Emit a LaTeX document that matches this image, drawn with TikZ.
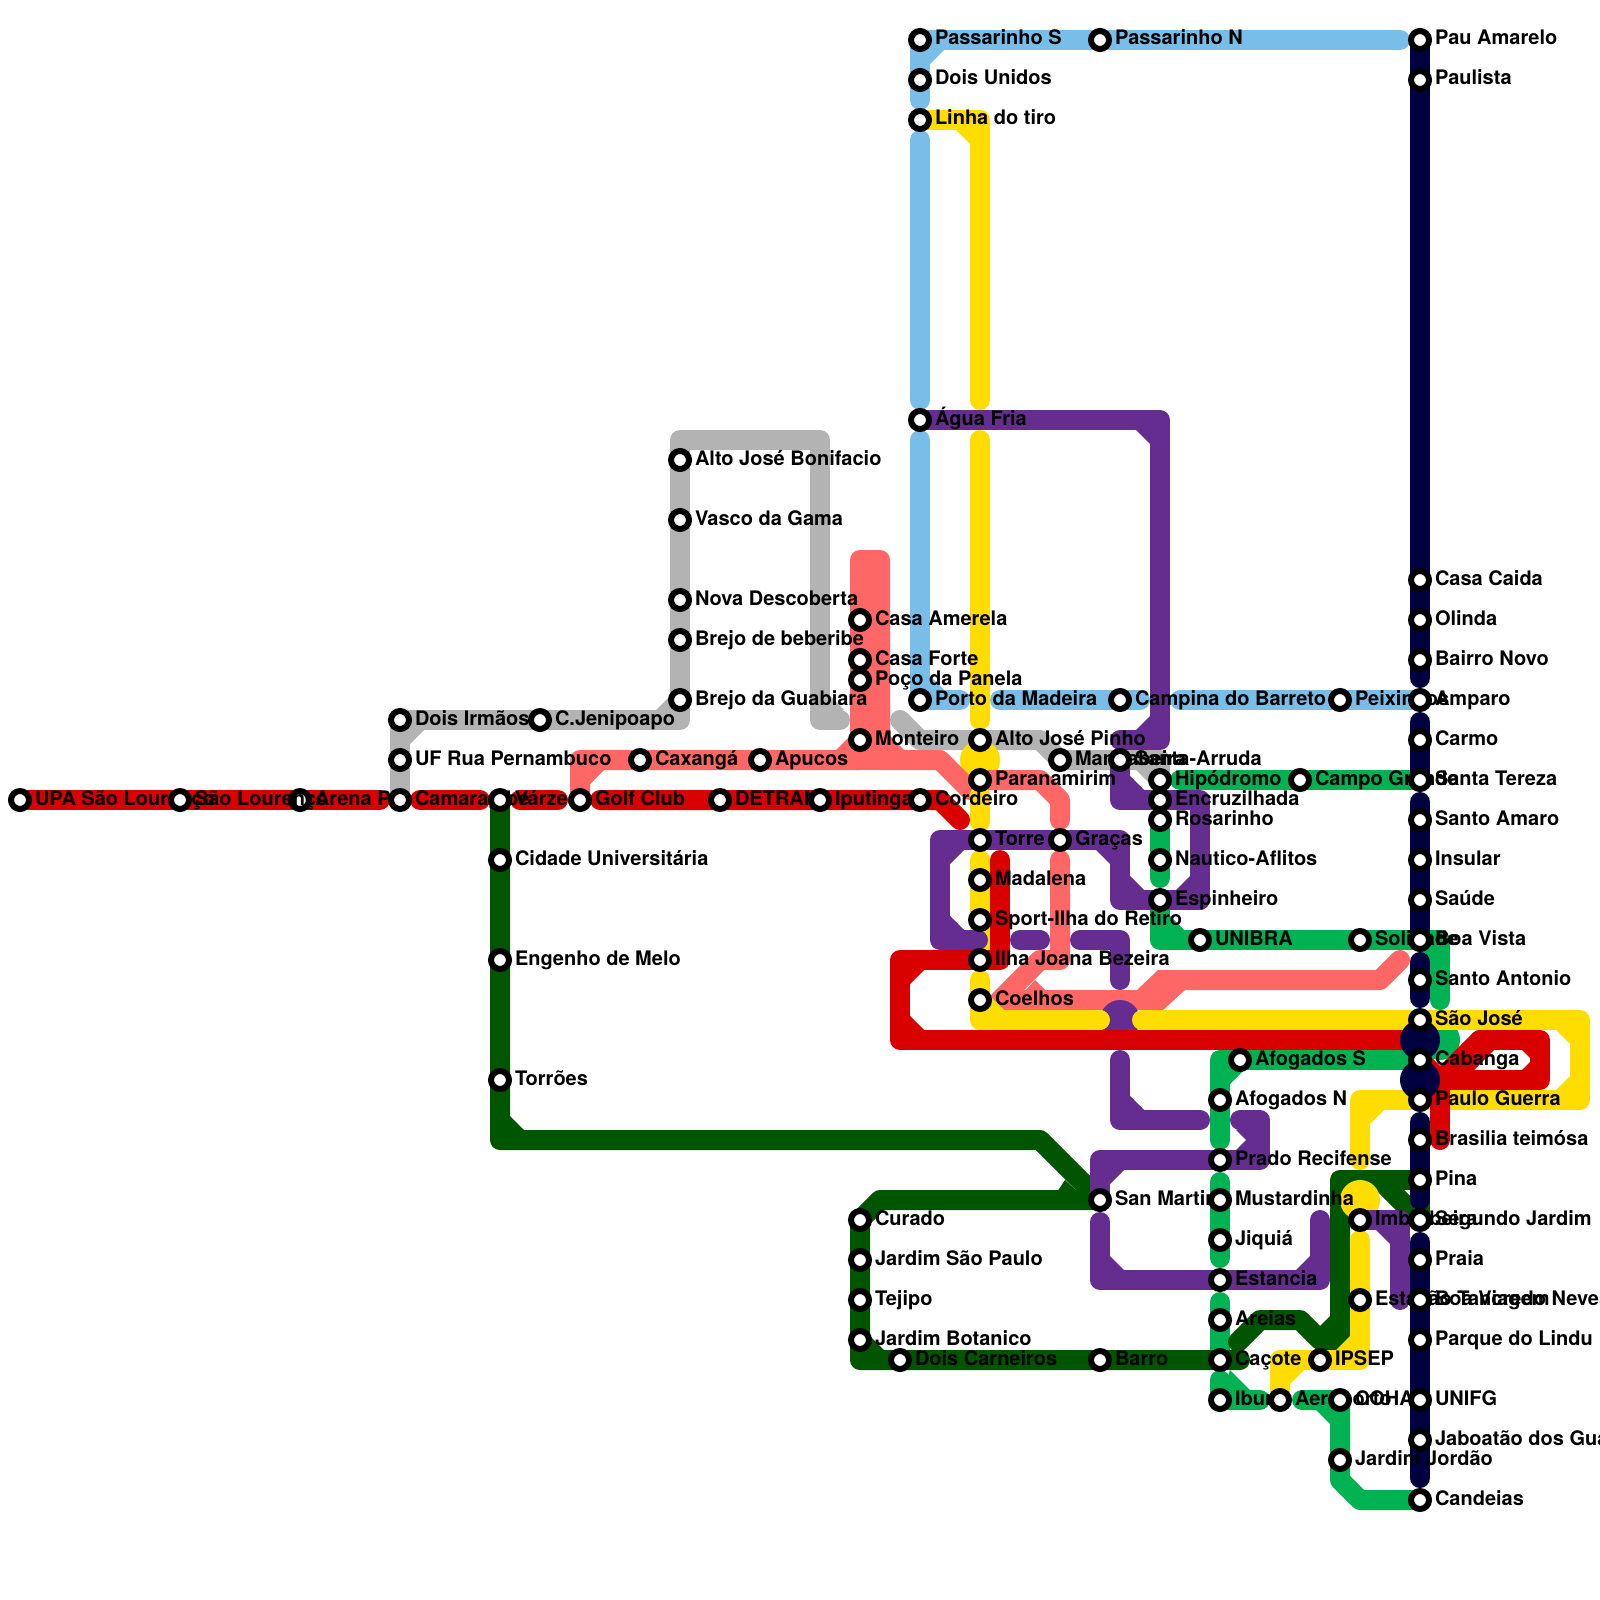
\documentclass[tikz,border=0pt]{standalone}
\usepackage{fontspec}
\setmainfont{TeX Gyre Heros}
\usetikzlibrary{calc}
\pgfdeclarelayer{lines}\pgfdeclarelayer{labels}\pgfdeclarelayer{top}
\pgfsetlayers{lines,labels,main,top}
\definecolor{cgray}{HTML}{B3B3B3}
\definecolor{cblue}{HTML}{79BDE9}
\definecolor{cgreen}{HTML}{00B251}
\definecolor{cpink}{HTML}{FF6666}
\definecolor{cdark}{HTML}{005500}
\definecolor{cpurple}{HTML}{662D91}
\definecolor{cyellow}{HTML}{FFDD00}
\definecolor{cred}{HTML}{D90000}
\definecolor{cnavy}{HTML}{000040}
\tikzset{
  ml/.style={line width=10pt,line cap=round,line join=round},
  station/.style={circle,draw=black,fill=white,line width=3pt,minimum size=9pt,inner sep=0pt},
  lbl/.style={anchor=base west,inner sep=0pt,outer sep=0pt,font=\fontsize{10}{12}\selectfont\bfseries,text=black},
}
% station: id, x, y, label
\newcommand\st[4]{\node[station] (#1) at (#2,#3) {};%
  \begin{pgfonlayer}{labels}\node[lbl] (#1l) at ({#2+15},{#3+5}) {#4};\end{pgfonlayer}}
% inner corner chamfer: [leg] colour, corner, dx, dy
\newcommand\cf[5][14]{\fill[#2] (#3) -- ([shift={({(10+#1)*#4},{10*#5})}]#3) -- ([shift={({10*#4},{(10+#1)*#5})}]#3) -- cycle;}
\newcommand\pts[1]{\foreach \n/\x/\y in {#1}{\coordinate (\n) at (\x,\y);}}
\begin{document}
\begin{tikzpicture}[x=0.5pt,y=-0.5pt]
\useasboundingbox (0,0) rectangle (1600,1600);
% ---- stations ----
\node[station] (upa) at (20,800) {};
\begin{pgfonlayer}{labels}\node[lbl] (upal) at (35,805) {UPA São Lourenço};\end{pgfonlayer}
\node[station] (slou) at (180,800) {};
\begin{pgfonlayer}{top}\node[lbl] (aslou) at (195,805) {São Lourenço};\end{pgfonlayer}
\st{arena}{300}{800}{Arena PE}
\st{camar}{400}{800}{Camaragibe}
\st{varzea}{500}{800}{Várzea}
\st{golf}{580}{800}{Golf Club}
\st{detran}{720}{800}{DETRAN}
\st{iput}{820}{800}{Iputinga}
\st{cord}{920}{800}{Cordeiro}
\st{irmaos}{400}{720}{Dois Irmãos}
\st{ufrua}{400}{760}{UF Rua Pernambuco}
\st{jenip}{540}{720}{C.Jenipoapo}
\st{guab}{680}{700}{Brejo da Guabiara}
\st{beber}{680}{640}{Brejo de beberibe}
\st{ndesc}{680}{600}{Nova Descoberta}
\st{vasco}{680}{520}{Vasco da Gama}
\st{bonif}{680}{460}{Alto José Bonifacio}
\st{cuni}{500}{860}{Cidade Universitária}
\st{emelo}{500}{960}{Engenho de Melo}
\st{torroes}{500}{1080}{Torrões}
\st{caxanga}{640}{760}{Caxangá}
\st{apucos}{760}{760}{Apucos}
\st{mont}{860}{740}{Monteiro}
\st{poco}{860}{680}{Poço da Panela}
\st{cforte}{860}{660}{Casa Forte}
\st{camer}{860}{620}{Casa Amerela}
\st{pass}{920}{40}{Passarinho S}
\st{dunid}{920}{80}{Dois Unidos}
\st{ltiro}{920}{120}{Linha do tiro}
\st{afria}{920}{420}{Água Fria}
\st{porto}{920}{700}{Porto da Madeira}
\st{pasn}{1100}{40}{Passarinho N}
\st{campina}{1120}{700}{Campina do Barreto}
\st{peix}{1340}{700}{Peixinhos}
\st{ajp}{980}{740}{Alto José Pinho}
\st{paran}{980}{780}{Paranamirim}
\st{torre}{980}{840}{Torre}
\st{madal}{980}{880}{Madalena}
\st{sport}{980}{920}{Sport-Ilha do Retiro}
\st{ilha}{980}{960}{Ilha Joana Bezeira}
\st{coel}{980}{1000}{Coelhos}
\st{gracas}{1060}{840}{Graças}
\st{mang}{1060}{760}{Mangabeira}
\st{sarr}{1120}{760}{Santa-Arruda}
\st{hipo}{1160}{780}{Hipódromo}
\st{encr}{1160}{800}{Encruzilhada}
\st{rosa}{1160}{820}{Rosarinho}
\st{naut}{1160}{860}{Nautico-Aflitos}
\st{espi}{1160}{900}{Espinheiro}
\st{unib}{1200}{940}{UNIBRA}
\st{cgde}{1300}{780}{Campo Grande}
\st{soli}{1360}{940}{Solidade}
\st{pau}{1420}{40}{Pau Amarelo}
\st{paul}{1420}{80}{Paulista}
\st{ccaid}{1420}{580}{Casa Caida}
\st{olin}{1420}{620}{Olinda}
\st{bnovo}{1420}{660}{Bairro Novo}
\st{ampa}{1420}{700}{Amparo}
\st{carmo}{1420}{740}{Carmo}
\st{ster}{1420}{780}{Santa Tereza}
\st{sama}{1420}{820}{Santo Amaro}
\st{insu}{1420}{860}{Insular}
\st{saud}{1420}{900}{Saúde}
\st{bvis}{1420}{940}{Boa Vista}
\st{sant}{1420}{980}{Santo Antonio}
\st{sjos}{1420}{1020}{São José}
\st{caba}{1420}{1060}{Cabanga}
\st{pgue}{1420}{1100}{Paulo Guerra}
\st{bras}{1420}{1140}{Brasilia teimósa}
\st{pina}{1420}{1180}{Pina}
\st{sjar}{1420}{1220}{Segundo Jardim}
\st{prai}{1420}{1260}{Praia}
\st{bvia}{1420}{1300}{Boa Viagem}
\st{plin}{1420}{1340}{Parque do Lindu}
\st{unif}{1420}{1400}{UNIFG}
\st{jabo}{1420}{1440}{Jaboatão dos Guararapes}
\st{cand}{1420}{1500}{Candeias}
\st{afos}{1240}{1060}{Afogados S}
\st{afon}{1220}{1100}{Afogados N}
\st{prad}{1220}{1160}{Prado Recifense}
\st{must}{1220}{1200}{Mustardinha}
\st{jiqu}{1220}{1240}{Jiquiá}
\st{esta}{1220}{1280}{Estancia}
\st{arei}{1220}{1320}{Areias}
\st{caco}{1220}{1360}{Caçote}
\st{ibur}{1220}{1400}{Ibura}
\st{aero}{1280}{1400}{Aeroporto}
\st{ipse}{1320}{1360}{IPSEP}
\st{coha}{1340}{1400}{COHAB}
\st{jjor}{1340}{1460}{Jardim Jordão}
\st{imbi}{1360}{1220}{Imbiribeira}
\st{tanc}{1360}{1300}{Estação Tancredo Neves}
\st{smar}{1100}{1200}{San Martin}
\st{barr}{1100}{1360}{Barro}
\st{dcar}{900}{1360}{Dois Carneiros}
\st{cura}{860}{1220}{Curado}
\st{jspa}{860}{1260}{Jardim São Paulo}
\st{teji}{860}{1300}{Tejipo}
\st{jbot}{860}{1340}{Jardim Botanico}
% ---- lines ----
\begin{pgfonlayer}{lines}
% gray
\pts{ga/680/720,gb/680/440,gc/820/440,gd/820/720,ge/840/720,gf/900/720,gg/920/740,gh/1040/740,gi/1160/760,gj/1160/780}
\draw[ml,cgray] (camar.center) -- (irmaos.center) -- (ga) -- (gb) -- (gc) -- (gd) -- (ge);
\cf{cgray}{irmaos.center}{1}{1}\cf{cgray}{ga}{-1}{-1}\cf{cgray}{gd}{1}{-1}
\draw[ml,cgray] (gf) -- (gg) -- (gh) -- (mang.center) -- (gi) -- (gj);
\cf{cgray}{gi}{-1}{1}
% blue
\pts{ba/920/100,bb/1400/40,bc/920/140,bd/920/400,be/920/440,bf/960/700,bg/1000/700,bh/1140/700,bi/1180/700}
\draw[ml,cblue] (ba) -- (pass.center) -- (bb);
\cf{cblue}{pass.center}{1}{1}
\draw[ml,cblue] (bc) -- (bd);
\draw[ml,cblue] (be) -- (porto.center) -- (bf);
\cf{cblue}{porto.center}{1}{-1}
\draw[ml,cblue] (bg) -- (bh);
\draw[ml,cblue] (bi) -- (ampa.center);
% bright green
\pts{ea/1160/878,eb/1160/910,ec/1160/940,ed/1440/940,ee/1440/1000,ef/1180/780,eg/1220/1060,eh/1220/1140,ei/1220/1182,ej/1220/1258,ek/1220/1302,el/1220/1350,em/1220/1380,en/1260/1400,eo/1302/1400,ep/1340/1480,eq/1360/1500,er/1440/1040}
\draw[ml,cgreen] (rosa.center) -- (ea);
\draw[ml,cgreen] (eb) -- (ec) -- (ed) -- (ee);
\cf{cgreen}{ec}{1}{-1}\cf{cgreen}{ed}{-1}{1}
\draw[ml,cgreen] (ef) -- (ster.center);
\fill[cgreen] (er) circle (20);
\draw[ml,cgreen] (caba.center) -- (eg) -- (eh);
\cf{cgreen}{eg}{1}{1}
\draw[ml,cgreen] (ei) -- (ej);
\draw[ml,cgreen] (ek) -- (el);
\draw[ml,cgreen] (em) -- (ibur.center) -- (en);
\cf[20]{cgreen}{ibur.center}{1}{-1}
\draw[ml,cgreen] (eo) -- (coha.center) -- (ep) -- (eq) -- (cand.center);
\cf{cgreen}{coha.center}{-1}{1}
% yellow interchange dot, below pink
\pts{ya/980/760}
\fill[cyellow] (ya) circle (20);
% pink
\pts{pa/580/760,pb/860/760,pc/860/560,pd/880/560,pe/880/760,pf/940/760,pg/970/790,ph/1040/780,pi/1060/800,pj/1060/820,pk/1060/860,pl/1060/960,pm/1040/960,pn/1000/1000,po/1120/1000,pq/1180/980,pr/1380/980,ps/1400/960}
\draw[ml,cpink] (golf.center) -- (pa) -- (pb) -- (pc) -- (pd) -- (pe) -- (pf) -- (pg);
\draw[ml,cpink] (pb) -- (pe);
\cf{cpink}{pa}{1}{1}\cf{cpink}{pb}{-1}{-1}\cf{cpink}{pe}{1}{-1}
\draw[ml,cpink] (paran.center) -- (ph) -- (pi) -- (pj);
\draw[ml,cpink] (pk) -- (pl) -- (pm) -- (pn) -- (po);
\draw[ml,cpink] (pq) -- (pr) -- (ps);
\pts{pv/1024/992,pw/1035/980,px/1047/992}
\fill[cpink] (pv) -- (pw) -- (px) -- cycle;
\pts{pza/1110/990,pzb/1137/990,pzc/1158/970,pzd/1185/970,pze/1185/990,pzf/1163/1010,pzg/1110/1010}
\fill[cpink] (pza) -- (pzb) -- (pzc) -- (pzd) -- (pze) -- (pzf) -- (pzg) -- cycle;
% dark green
\pts{da/500/1140,db/1040/1140,dc/880/1200,dd/860/1360,de/1240/1360,dea/1238/1342,df/1260/1320,dg/1300/1320,dh/1320/1340,di/1340/1340,dj/1340/1180,dk/1380/1180,dl/1420/1180}
\draw[ml,cdark] (varzea.center) -- (da) -- (db) -- (smar.center) -- (dc) -- (cura.center) -- (dd) -- (de);
\cf{cdark}{da}{1}{-1}\cf{cdark}{dd}{1}{-1}
\pts{dm/1057/1192,dn/1065/1180,do/1078/1192}
\fill[cdark] (dm) -- (dn) -- (do) -- cycle;
\draw[ml,cdark] (dea) -- (df) -- (dg) -- (dh) -- (di) -- (dj) -- (dk) -- (sjar.center);
\draw[ml,cdark] (dk) -- (dl) -- (sjar.center);
\cf{cdark}{di}{-1}{-1}\cf{cdark}{dj}{1}{1}
% purple interchange dot
\pts{qz/1120/1020}
\fill[cpurple] (qz) circle (20);
% yellow
\pts{ybb/980/120,ybc/980/400,ybd/980/440,ybe/980/720,ybf/980/795,ybg/980/822,ybh/980/860,ybi/980/980,ybj/980/1020,ybk/1100/1020,ybl/1142/1020,ybm/1580/1020,ybn/1580/1100,ybo/1360/1100,ybp/1360/1160,ybq/1360/1200,ybr/1360/1240,ybs/1360/1360,ybt/1280/1360}
\draw[ml,cyellow] (ltiro.center) -- (ybb) -- (ybc);
\cf{cyellow}{ybb}{-1}{1}
\draw[ml,cyellow] (ybd) -- (ybe);
\draw[ml,cyellow] (ybf) -- (ybg);
\draw[ml,cyellow] (ybh) -- (ilha.center);
\draw[ml,cyellow] (ybi) -- (ybj) -- (ybk);
\cf{cyellow}{ybj}{1}{-1}
\draw[ml,cyellow] (ybl) -- (ybm) -- (ybn) -- (ybo) -- (ybp);
\cf{cyellow}{ybm}{-1}{1}\cf{cyellow}{ybn}{-1}{-1}\cf{cyellow}{ybo}{1}{1}
\fill[cyellow] (ybq) circle (20);
\draw[ml,cyellow] (ybr) -- (ybs) -- (ybt) -- (aero.center);
\cf{cyellow}{ybs}{-1}{-1}\cf{cyellow}{ybt}{1}{1}
% purple
\pts{qa/1160/420,qb/1160/740,qc/1120/740,qd/1120/800,qe/1200/800,qf/1200/900,qg/1120/900,qh/1120/840,qi/940/840,qj/940/940,qk/978/940,ql/1020/940,qm/1040/940,qn/1080/940,qo/1120/940,qp/1120/980,qq/1120/1060,qr/1120/1120,qs/1200/1120,qt/1240/1120,qu/1260/1120,qv/1260/1160,qw/1100/1160,qx/1100/1222,qy/1100/1280,qaa/1320/1280,qab/1320/1220,qac/1400/1220,qad/1400/1300}
\draw[ml,cpurple] (afria.center) -- (qa) -- (qb) -- (qc);
\cf{cpurple}{qa}{-1}{1}\cf{cpurple}{qb}{-1}{-1}
\draw[ml,cpurple] (sarr.center) -- (qd) -- (qe) -- (qf) -- (qg) -- (qh) -- (qi) -- (qj) -- (qk);
\cf{cpurple}{qd}{1}{-1}\cf{cpurple}{qf}{-1}{-1}\cf{cpurple}{qg}{1}{-1}\cf{cpurple}{qh}{-1}{1}\cf{cpurple}{qi}{1}{1}\cf{cpurple}{qj}{1}{-1}
\draw[ml,cpurple] (ql) -- (qm);
\draw[ml,cpurple] (qn) -- (qo) -- (qp);
\draw[ml,cpurple] (qq) -- (qr) -- (qs);
\cf{cpurple}{qr}{1}{-1}
\draw[ml,cpurple] (qt) -- (qu) -- (qv) -- (qw) -- (smar.center);
\cf{cpurple}{qu}{-1}{1}\cf{cpurple}{qv}{-1}{-1}\cf{cpurple}{qw}{1}{1}
\draw[ml,cpurple] (qx) -- (qy) -- (qaa) -- (qab);
\cf{cpurple}{qy}{1}{-1}\cf{cpurple}{qaa}{-1}{-1}
\draw[ml,cpurple] (imbi.center) -- (qac) -- (qad);
\cf{cpurple}{qac}{-1}{1}
% red
\pts{ra/380/800,rb/420/800,rc/480/800,rd/520/800,re/558/800,rf/600/800,rg/940/800,rh/960/820,ri/1000/860,rj/1000/960,rk/900/960,rl/900/1040,rm/1540/1040,rn/1540/1080,ro/1440/1080,rp/1440/1140,rq/1480/1040,rr/1450/1080,rs/1490/1040,rt/1410/1040}
\draw[ml,cred] (upa.center) -- (ra);
\draw[ml,cred] (rb) -- (rc);
\draw[ml,cred] (rd) -- (re);
\draw[ml,cred] (rf) -- (rg) -- (rh);
\draw[ml,cred] (ri) -- (rj) -- (rk) -- (rl) -- (rt);
\draw[ml,cred] (rq) -- (rm) -- (rn) -- (ro) -- (rp);
\draw[ml,cred] (ro) -- (rq);
\draw[ml,cred] (rr) -- (rs);
\draw[ml,cred] (caba.center) -- (ro);
\cf{cred}{rk}{1}{1}\cf{cred}{rl}{1}{-1}
\cf[8]{cred}{rm}{-1}{1}\cf[8]{cred}{rn}{-1}{-1}
% navy
\pts{na/1420/678,nb/1420/722,nc/1420/802,nd/1420/962,ne/1420/998,nf/1420/1040,ng/1420/1080,nh/1420/1122,ni/1420/1200,nj/1420/1242,nk/1420/1478}
\draw[ml,cnavy] (pau.center) -- (na);
\draw[ml,cnavy] (nb) -- (ster.center);
\draw[ml,cnavy] (nc) -- (bvis.center);
\draw[ml,cnavy] (nd) -- (ne);
\fill[cnavy] (nf) circle (20);
\fill[cnavy] (ng) circle (20);
\draw[ml,cnavy] (nh) -- (ni);
\draw[ml,cnavy] (nj) -- (nk);
\end{pgfonlayer}
\end{tikzpicture}
\end{document}
